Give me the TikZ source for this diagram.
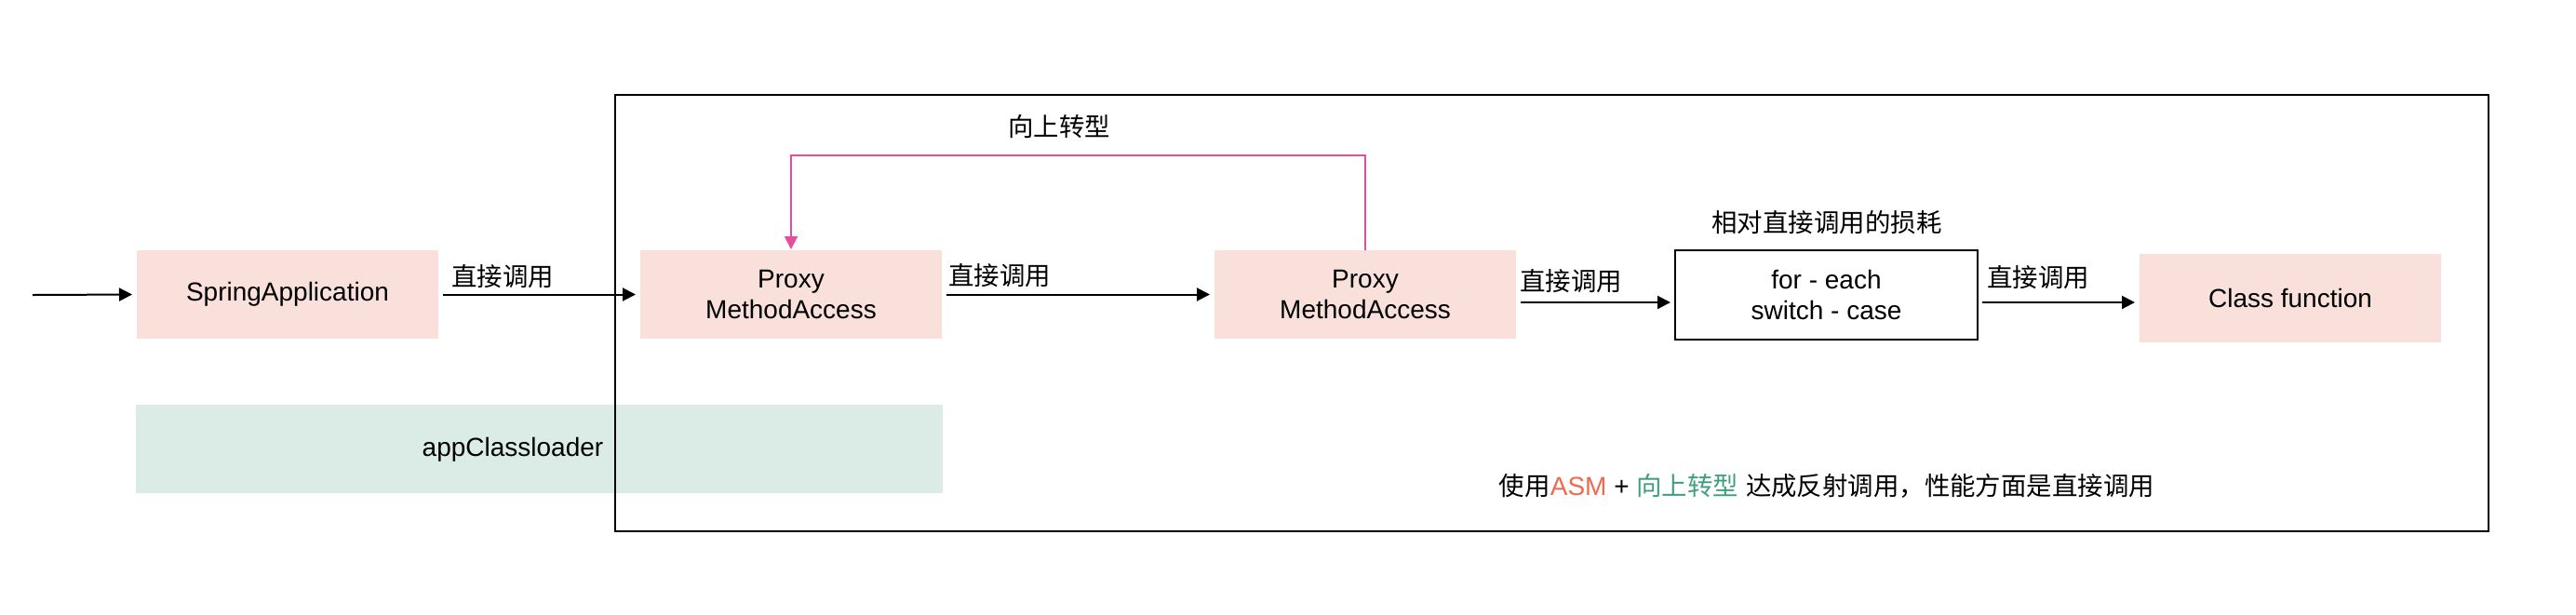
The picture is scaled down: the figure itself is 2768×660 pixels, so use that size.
\documentclass[tikz,border=0pt]{standalone}
\usepackage{fontspec}
\setmainfont{Liberation Sans}
\newfontfamily\cjk[Scale=0.98]{Noto Sans CJK SC}
\usetikzlibrary{arrows.meta}
\definecolor{pinkfill}{HTML}{FAE0DB}
\definecolor{greenfill}{HTML}{DAECE5}
\definecolor{upcast}{HTML}{E94C98}
\definecolor{asmred}{HTML}{EE6A4F}
\definecolor{upgreen}{HTML}{3E9E7E}
\begin{document}
\begin{tikzpicture}[x=0.5pt,y=-0.5pt,
  every node/.style={font=\fontsize{14pt}{16.5pt}\selectfont, inner sep=0pt, outer sep=0pt},
  pinkbox/.style={fill=pinkfill, minimum width=162pt, minimum height=47.5pt, align=center},
  greenbox/.style={fill=greenfill, minimum width=433.5pt, minimum height=47.5pt},
  codebox/.style={draw=black, line width=1.2pt, minimum width=162.5pt, minimum height=48pt, align=center},
  frame/.style={draw=black, line width=1.3pt, minimum width=1006.5pt, minimum height=234.5pt},
  flow/.style={-{Triangle[length=7pt,width=7pt]}, line width=1pt, shorten >=2.5pt, shorten <=2.5pt},
  upflow/.style={-{Triangle[length=7pt,width=7pt]}, draw=upcast, line width=1pt, shorten >=0.5pt},
  lbl/.style={font=\fontsize{14pt}{16.5pt}\selectfont\cjk}
]
\useasboundingbox (0,0) rectangle (2768,660);

% background green box and outer frame
\node[greenbox] (appcl) at (579.5,482.5) {};
\node (appcltext) at (551,483) {appClassloader};
\node[frame] (frm) at (1667.5,336.5) {};

% main boxes
\node[pinkbox] (spring) at (309,316.5) {SpringApplication};
\node[pinkbox] (proxy1) at (850,316.5) {Proxy\\MethodAccess};
\node[pinkbox] (proxy2) at (1467,316.5) {Proxy\\MethodAccess};
\node[codebox] (foreach) at (1962.5,317) {for - each\\switch - case};
\node[pinkbox] (classfn) at (2461,320.5) {Class function};

% entry
\coordinate (entry) at (35,317);
\draw[flow, shorten <=0pt] (entry) -- (spring.west);
\draw[flow] (spring.east) -- (proxy1.west);
\draw[flow] (proxy1.east) -- (proxy2.west);
\draw[flow] ([yshift=-4.25pt]proxy2.east) -- ([yshift=-4pt]foreach.west);
\draw[flow] ([yshift=-4pt]foreach.east) -- ([yshift=-2.25pt]classfn.west);

% upcast loop
\coordinate (looptop) at (1000,167);
\draw[upflow] (proxy2.north) -- (proxy2.north |- looptop) -| (proxy1.north);

% labels
\node[lbl] (l1) at (540,297) {直接调用};
\node[lbl] (l2) at (1074,296) {直接调用};
\node[lbl] (l3) at (1688,302) {直接调用};
\node[lbl] (l4) at (2190,298) {直接调用};
\node[lbl] (lup) at (1138,136) {向上转型};
\node[lbl] (lcost) at (1963,239) {相对直接调用的损耗};
\node (note) at (1963,522) {{\cjk 使用}\textcolor{asmred}{ASM} + \textcolor{upgreen}{\cjk 向上转型} {\cjk 达成反射调用，性能方面是直接调用}};
\end{tikzpicture}
\end{document}
